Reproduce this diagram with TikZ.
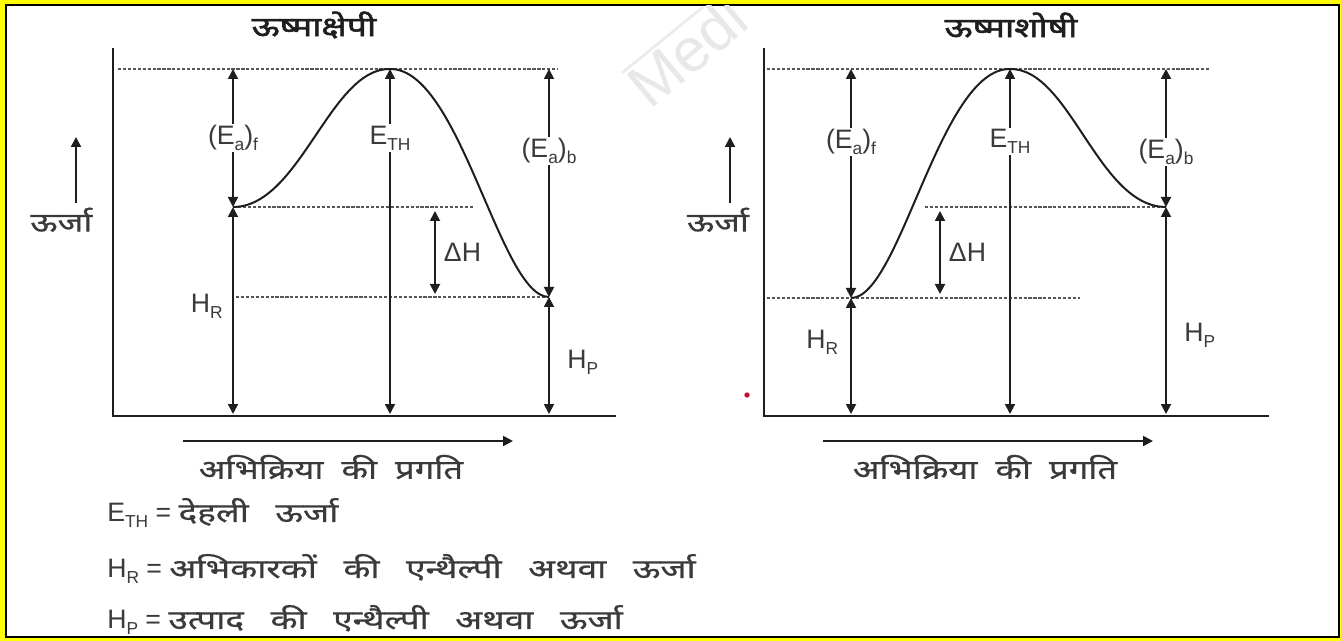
\documentclass[tikz,border=0pt]{standalone}
\usepackage{fontspec}
\setmainfont{Liberation Sans}
\newfontfamily\hindi[Script=Devanagari, FakeStretch=1.3, FakeBold=0.7, WordSpace=2]{Noto Sans}
\newfontfamily\hindikey[Script=Devanagari, FakeStretch=1.32, FakeBold=0.7, WordSpace=2.9]{Noto Sans}
\newfontfamily\hinditl[Script=Devanagari, FakeStretch=1.3, FakeBold=2.2]{Noto Sans}
\usepackage{xcolor}
\definecolor{frame}{HTML}{FFFF00}
\definecolor{ink}{HTML}{1E1E1E}
\definecolor{txt}{HTML}{3A3A3A}
\definecolor{speck}{HTML}{C8102E}
\usetikzlibrary{arrows.meta,positioning,calc}
\newcommand\lowsub[1]{\raisebox{-4.5pt}{\fontsize{13}{14}\selectfont #1}}

\begin{document}
\begin{tikzpicture}[
  x=0.75pt, y=-0.75pt,
  font=\fontsize{20}{23}\selectfont,
  >={Triangle[length=7.5pt,width=7.5pt]},
  axisline/.style={ink, line width=1.9pt},
  lvl/.style={ink!75, line width=1.8pt, dash pattern=on 2.4pt off 1.3pt},
  profile/.style={ink, line width=1.5pt},
  dimarrow/.style={<->, ink, line width=1.4pt},
  lbl/.style={txt, inner sep=1pt, fill=white},
  side/.style={txt, inner sep=1pt},
  title/.style={ink, font=\hinditl\fontsize{20.5}{23}\selectfont},
  hin/.style={txt, font=\hindi\fontsize{20}{23}\selectfont},
  legend/.style={txt, inner sep=0pt, font=\fontsize{20}{23}\selectfont},
]
% Frame
\fill[frame] (0,0) rectangle (1341,641);
\draw[black, line width=1.5pt, fill=white] (6,5) rectangle (1339,637);

% Watermark
\begin{scope}
  \clip (7,6) rectangle (1338,636);
  \draw[black!8, line width=2pt] (622,73) -- (703,7);
  \node[black!9, rotate=40, font=\fontsize{46}{50}\selectfont, anchor=south west] (wm) at (650,118) {Medi};
\end{scope}

% Exothermic
\node[title] (tl) at (314,25) {ऊष्माक्षेपी};
\draw[axisline] (113,48) -- (113,416) -- (616,416);

\coordinate (l1top) at (233,69);
\coordinate (l1mid) at (233,207);
\coordinate (l1bot) at (233,414);
\coordinate (l2top) at (390,69);
\coordinate (l2bot) at (390,414);
\coordinate (l3top) at (549,69);
\coordinate (l3mid) at (549,297);
\coordinate (l3bot) at (549,414);
\coordinate (ldhT) at (435,211);
\coordinate (ldhB) at (435,294);

\draw[lvl] (118,69) -- (558,69);
\draw[lvl] (l1mid) -- (473,207);
\draw[lvl] (236,297) -- (l3mid);

\draw[profile] (l1mid) .. controls (300,207) and (330,68) .. (l2top) .. controls (460,68) and (500,297) .. (l3mid);

\draw[dimarrow] (l1top) -- node[lbl, pos=0.5] (eaf1) {(E\lowsub{a})\lowsub{f}} (l1mid);
\draw[dimarrow] (l1mid) -- node[side, pos=0.48, left=6pt] (hr1) {H\lowsub{R}} (l1bot);
\draw[dimarrow] (l2top) -- node[lbl, pos=0.2] (eth1) {E\lowsub{TH}} (l2bot);
\draw[dimarrow] (l3top) -- node[lbl, pos=0.36] (eab1) {(E\lowsub{a})\lowsub{b}} (l3mid);
\draw[dimarrow] (l3mid) -- node[side, pos=0.56, right=12pt] (hp1) {H\lowsub{P}} (l3bot);
\draw[dimarrow] (ldhT) -- node[side, right=5pt] (dh1) {ΔH} (ldhB);

\coordinate (eu1) at (76,203);
\draw[->, ink, line width=1.5pt] (eu1) -- (76,137);
\node[hin, below=0pt of eu1, xshift=-11pt] (en1) {ऊर्जा};

\coordinate (pr1) at (183,441);
\draw[->, ink, line width=1.5pt] (pr1) -- (513,441);
\node[hin] (pg1) at (331,467) {अभिक्रिया की प्रगति};

% Endothermic
\node[title] (tr) at (1011,25) {ऊष्माशोषी};
\draw[axisline] (764,48) -- (764,416) -- (1269,416);

\coordinate (r1top) at (851,69);
\coordinate (r1mid) at (851,298);
\coordinate (r1bot) at (851,414);
\coordinate (r2top) at (1010,69);
\coordinate (r2bot) at (1010,414);
\coordinate (r3top) at (1166,69);
\coordinate (r3mid) at (1166,207);
\coordinate (r3bot) at (1166,414);
\coordinate (rdhT) at (940,211);
\coordinate (rdhB) at (940,294);

\draw[lvl] (767,69) -- (1210,69);
\draw[lvl] (767,298) -- (1080,298);
\draw[lvl] (925,207) -- (r3mid);

\draw[profile] (r1mid) .. controls (900,298) and (940,68) .. (r2top) .. controls (1070,68) and (1098,207) .. (r3mid);

\draw[dimarrow] (r1top) -- node[lbl, pos=0.32] (eaf2) {(E\lowsub{a})\lowsub{f}} (r1mid);
\draw[dimarrow] (r1mid) -- node[side, pos=0.38, left=8pt] (hr2) {H\lowsub{R}} (r1bot);
\draw[dimarrow] (r2top) -- node[lbl, pos=0.21] (eth2) {E\lowsub{TH}} (r2bot);
\draw[dimarrow] (r3top) -- node[lbl, pos=0.6] (eab2) {(E\lowsub{a})\lowsub{b}} (r3mid);
\draw[dimarrow] (r3mid) -- node[side, pos=0.62, right=12pt] (hp2) {H\lowsub{P}} (r3bot);
\draw[dimarrow] (rdhT) -- node[side, right=5pt] (dh2) {ΔH} (rdhB);

\coordinate (eu2) at (730,203);
\draw[->, ink, line width=1.5pt] (eu2) -- (730,137);
\node[hin, below=0pt of eu2, xshift=-9pt] (en2) {ऊर्जा};

\coordinate (pr2) at (823,441);
\draw[->, ink, line width=1.5pt] (pr2) -- (1153,441);
\node[hin] (pg2) at (985,467) {अभिक्रिया की प्रगति};

\fill[speck] (747,395) circle (2pt);

% Key
\node[legend, anchor=west] (keyE) at (107,513) {E\lowsub{TH} = {\hindikey देहली ऊर्जा}};
\node[legend, anchor=west] (keyR) at (107,569) {H\lowsub{R} = {\hindikey अभिकारकों की एन्थैल्पी अथवा ऊर्जा}};
\node[legend, anchor=west] (keyP) at (107,620) {H\lowsub{P} = {\hindikey उत्पाद की एन्थैल्पी अथवा ऊर्जा}};
\end{tikzpicture}
\end{document}
